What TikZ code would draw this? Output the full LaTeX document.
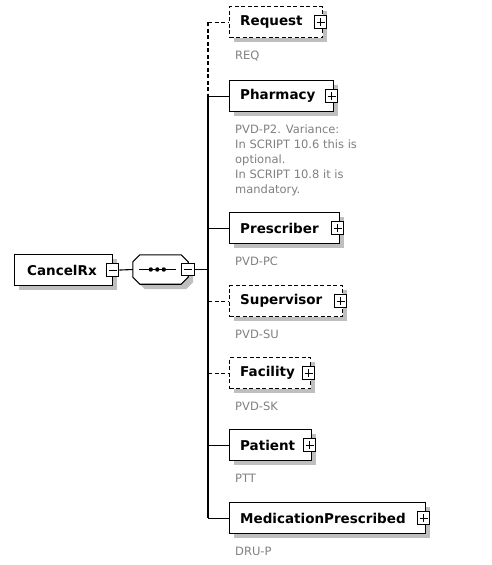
\documentclass[tikz,border=0pt]{standalone}
\usepackage{fontspec}
\setmainfont{DejaVu Sans}
\tikzset{
  shadowfill/.style={fill=black!25, draw=none},
  elemsolid/.style={draw=black, line width=1.1pt, fill=white},
  elemdash/.style={elemsolid, dash pattern=on 4pt off 2.5pt},
  pmbox/.style={draw=black, fill=white, minimum size=12.5pt, inner sep=0pt, line width=0.9pt},
  lbl/.style={font=\fontsize{13.5}{16}\selectfont\bfseries, anchor=west, inner sep=0pt},
  desc/.style={font=\fontsize{11.5}{15}\selectfont, text=black!50, anchor=north west, align=left, inner sep=0pt},
  conn/.style={line width=1.1pt},
  conndash/.style={line width=1.1pt, dash pattern=on 4pt off 2.5pt},
}
\newcommand\elembox[7]{%
  \fill[shadowfill] (#2+5,#3+5) rectangle (#2+#4+5,#3+36);
  \node[#5, minimum width=#4pt, minimum height=31pt, anchor=north west, inner sep=0pt] (#1) at (#2,#3) {};
  \node[lbl] (#1t) at ([xshift=11pt]#1.west) {#6};
  \node[pmbox] (#1p) at ([xshift=-2.5pt]#1.east) {};
  \draw[line width=0.9pt] ([xshift=-4pt]#1p.center) -- ([xshift=4pt]#1p.center) ([yshift=-4pt]#1p.center) -- ([yshift=4pt]#1p.center);
  \node[desc] (#1d) at (#2+6,#3+45) {#7};
}
\begin{document}
\begin{tikzpicture}[x=1pt,y=-1pt]
\useasboundingbox (0,0) rectangle (492,565);
% root element
\fill[shadowfill] (19,259) rectangle (117,290);
\node[elemsolid, minimum width=98pt, minimum height=31pt, anchor=north west, inner sep=0pt] (root) at (14,254) {};
\node[lbl] (roott) at ([xshift=13pt]root.west) {CancelRx};
\node[pmbox] (rootm) at ([xshift=-0.5pt]root.east) {};
\draw[line width=0.9pt] ([xshift=-4pt]rootm.center) -- ([xshift=4pt]rootm.center);
% sequence compositor
\node[minimum width=55pt, minimum height=29pt, inner sep=0pt] (seq) at (160.5,269.5) {};
\fill[shadowfill] ([shift={(5,12)}]seq.north west) -- ([shift={(12,5)}]seq.north west) -- ([shift={(-2,5)}]seq.north east)
  -- ([shift={(5,12)}]seq.north east) -- ([shift={(5,-2)}]seq.south east) -- ([shift={(-2,5)}]seq.south east)
  -- ([shift={(12,5)}]seq.south west) -- ([shift={(5,-2)}]seq.south west) -- cycle;
\draw[line width=1.1pt, fill=white] ([shift={(0,7)}]seq.north west) -- ([shift={(7,0)}]seq.north west) -- ([shift={(-7,0)}]seq.north east)
  -- ([shift={(0,7)}]seq.north east) -- ([shift={(0,-7)}]seq.south east) -- ([shift={(-7,0)}]seq.south east)
  -- ([shift={(7,0)}]seq.south west) -- ([shift={(0,-7)}]seq.south west) -- cycle;
\draw[line width=1.1pt] ([xshift=6pt]seq.west) -- ([xshift=43pt]seq.west);
\foreach \dx in {18,24.5,31} \fill ([xshift=\dx pt]seq.west) circle (2.2pt);
\node[pmbox] (seqm) at ([xshift=-0.5pt]seq.east) {};
\draw[line width=0.9pt] ([xshift=-4pt]seqm.center) -- ([xshift=4pt]seqm.center);
\draw[conn] (rootm.east) -- (seq.west);
\coordinate (trunk) at (208,269.5);
\draw[conn] (seqm.east) -- (trunk);
% child elements
\elembox{req}{229}{6}{93}{elemdash}{Request}{REQ}
\elembox{pha}{229}{80}{104}{elemsolid}{Pharmacy}{PVD-P2. Variance:\\In SCRIPT 10.6 this is\\optional.\\In SCRIPT 10.8 it is\\mandatory.}
\elembox{pre}{229}{212}{110}{elemsolid}{Prescriber}{PVD-PC}
\elembox{sup}{229}{285}{113}{elemdash}{Supervisor}{PVD-SU}
\elembox{fac}{229}{357}{81}{elemdash}{Facility}{PVD-SK}
\elembox{pat}{229}{429}{82}{elemsolid}{Patient}{PTT}
\elembox{med}{229}{502}{196}{elemsolid}{MedicationPrescribed}{DRU-P}
% trunk
\draw[conndash] (req.west -| trunk) -- (pha.west -| trunk);
\draw[conn] (pha.west -| trunk) -- (med.west -| trunk);
\draw[conndash] (req.west -| trunk) -- (req.west);
\draw[conn] (pha.west -| trunk) -- (pha.west);
\draw[conn] (pre.west -| trunk) -- (pre.west);
\draw[conndash] (sup.west -| trunk) -- (sup.west);
\draw[conndash] (fac.west -| trunk) -- (fac.west);
\draw[conn] (pat.west -| trunk) -- (pat.west);
\draw[conn] (med.west -| trunk) -- (med.west);
\end{tikzpicture}
\end{document}
